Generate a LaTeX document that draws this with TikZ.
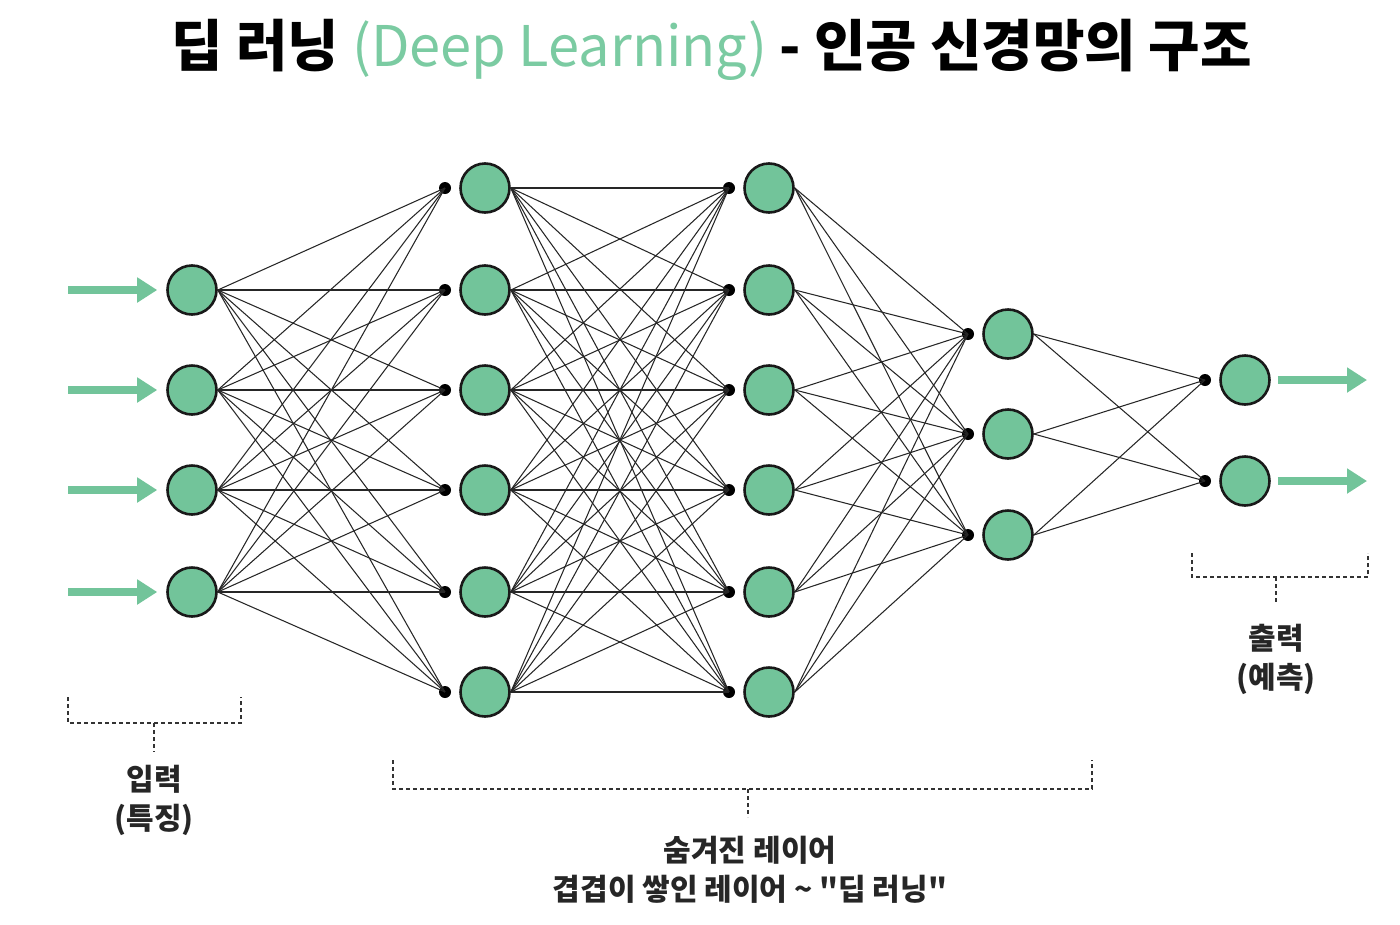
\documentclass[tikz,border=0pt]{standalone}
\usepackage{fontspec}
\usetikzlibrary{arrows.meta}
\newfontfamily\kr{Noto Sans CJK KR}
\definecolor{nngreen}{HTML}{72C49A}
\definecolor{ttlgreen}{HTML}{7BCBA2}
\tikzset{
  x=1pt,y=-1pt,
  neuron/.style={circle,draw=black!90,line width=2.6pt,fill=nngreen,minimum size=49pt,inner sep=0pt},
  jdot/.style={circle,fill=black,minimum size=12pt,inner sep=0pt},
  edge/.style={black!85,line width=1.05pt},
  flow/.style={nngreen,line width=8.5pt,-{Triangle[length=20pt,width=24pt]}},
  brk/.style={black!80,line width=1.6pt,dash pattern=on 4pt off 3pt},
  lbl/.style={font=\kr\bfseries\fontsize{30}{39}\selectfont,align=center,text=black!85}
}
\begin{document}
\begin{tikzpicture}
\useasboundingbox (0,0) rectangle (1400,924);
\fill[white] (0,0) rectangle (1400,924);
% title
\node (title) at (712,50) {\kr\fontsize{56}{66}\selectfont\bfseries 딥 러닝 {\mdseries\color{ttlgreen}(Deep Learning)} - 인공 신경망의 구조};
% layer 1
\foreach \i/\y in {1/290,2/390,3/490,4/592}{
  \node[neuron] (A\i) at (192,\y) {};
  \coordinate (in\i) at (68,\y);
}
% layer 2
\foreach \i/\y in {1/188,2/290,3/390,4/490,5/592,6/692}{
  \node[neuron] (B\i) at (485,\y) {};
  \node[jdot] (b\i) at (445,\y) {};
}
% layer 3
\foreach \i/\y in {1/188,2/290,3/390,4/490,5/592,6/692}{
  \node[neuron] (C\i) at (769,\y) {};
  \node[jdot] (c\i) at (729,\y) {};
}
% layer 4
\foreach \i/\y in {1/334,2/434,3/535}{
  \node[neuron] (D\i) at (1008,\y) {};
  \node[jdot] (d\i) at (968,\y) {};
}
% layer 5
\foreach \i/\y in {1/380,2/481}{
  \node[neuron] (E\i) at (1245,\y) {};
  \node[jdot] (e\i) at (1205,\y) {};
  \coordinate (out\i) at (1367,\y);
}
% connections
\foreach \i in {1,...,4}{\foreach \j in {1,...,6}{\draw[edge] (A\i.east) -- (b\j.center);}}
\foreach \i in {1,...,6}{\foreach \j in {1,...,6}{\draw[edge] (B\i.east) -- (c\j.center);}}
\foreach \i in {1,...,6}{\foreach \j in {1,...,3}{\draw[edge] (C\i.east) -- (d\j.center);}}
\foreach \i in {1,...,3}{\foreach \j in {1,2}{\draw[edge] (D\i.east) -- (e\j.center);}}
% arrows
\foreach \i in {1,...,4}{\draw[flow,shorten >=9pt] (in\i) -- (A\i.west);}
\foreach \i in {1,2}{\draw[flow,shorten <=7pt] (E\i.east) -- (out\i);}
% brackets
\draw[brk] (68,697) -- (68,723) -- (241,723) -- (241,697);
\draw[brk] (154,723) -- (154,752);
\node[lbl] (inlbl) at (154,800) {입력\\(특징)};
\draw[brk] (393,760) -- (393,789) -- (1092,789) -- (1092,760);
\draw[brk] (748,789) -- (748,817);
\node[lbl] (hidlbl) at (750,870) {숨겨진 레이어\\겹겹이 쌓인 레이어 \textasciitilde\ "딥 러닝"};
\draw[brk] (1192,553) -- (1192,577) -- (1368,577) -- (1368,553);
\draw[brk] (1276,577) -- (1276,604);
\node[lbl] (outlbl) at (1276,659) {출력\\(예측)};
\end{tikzpicture}
\end{document}
